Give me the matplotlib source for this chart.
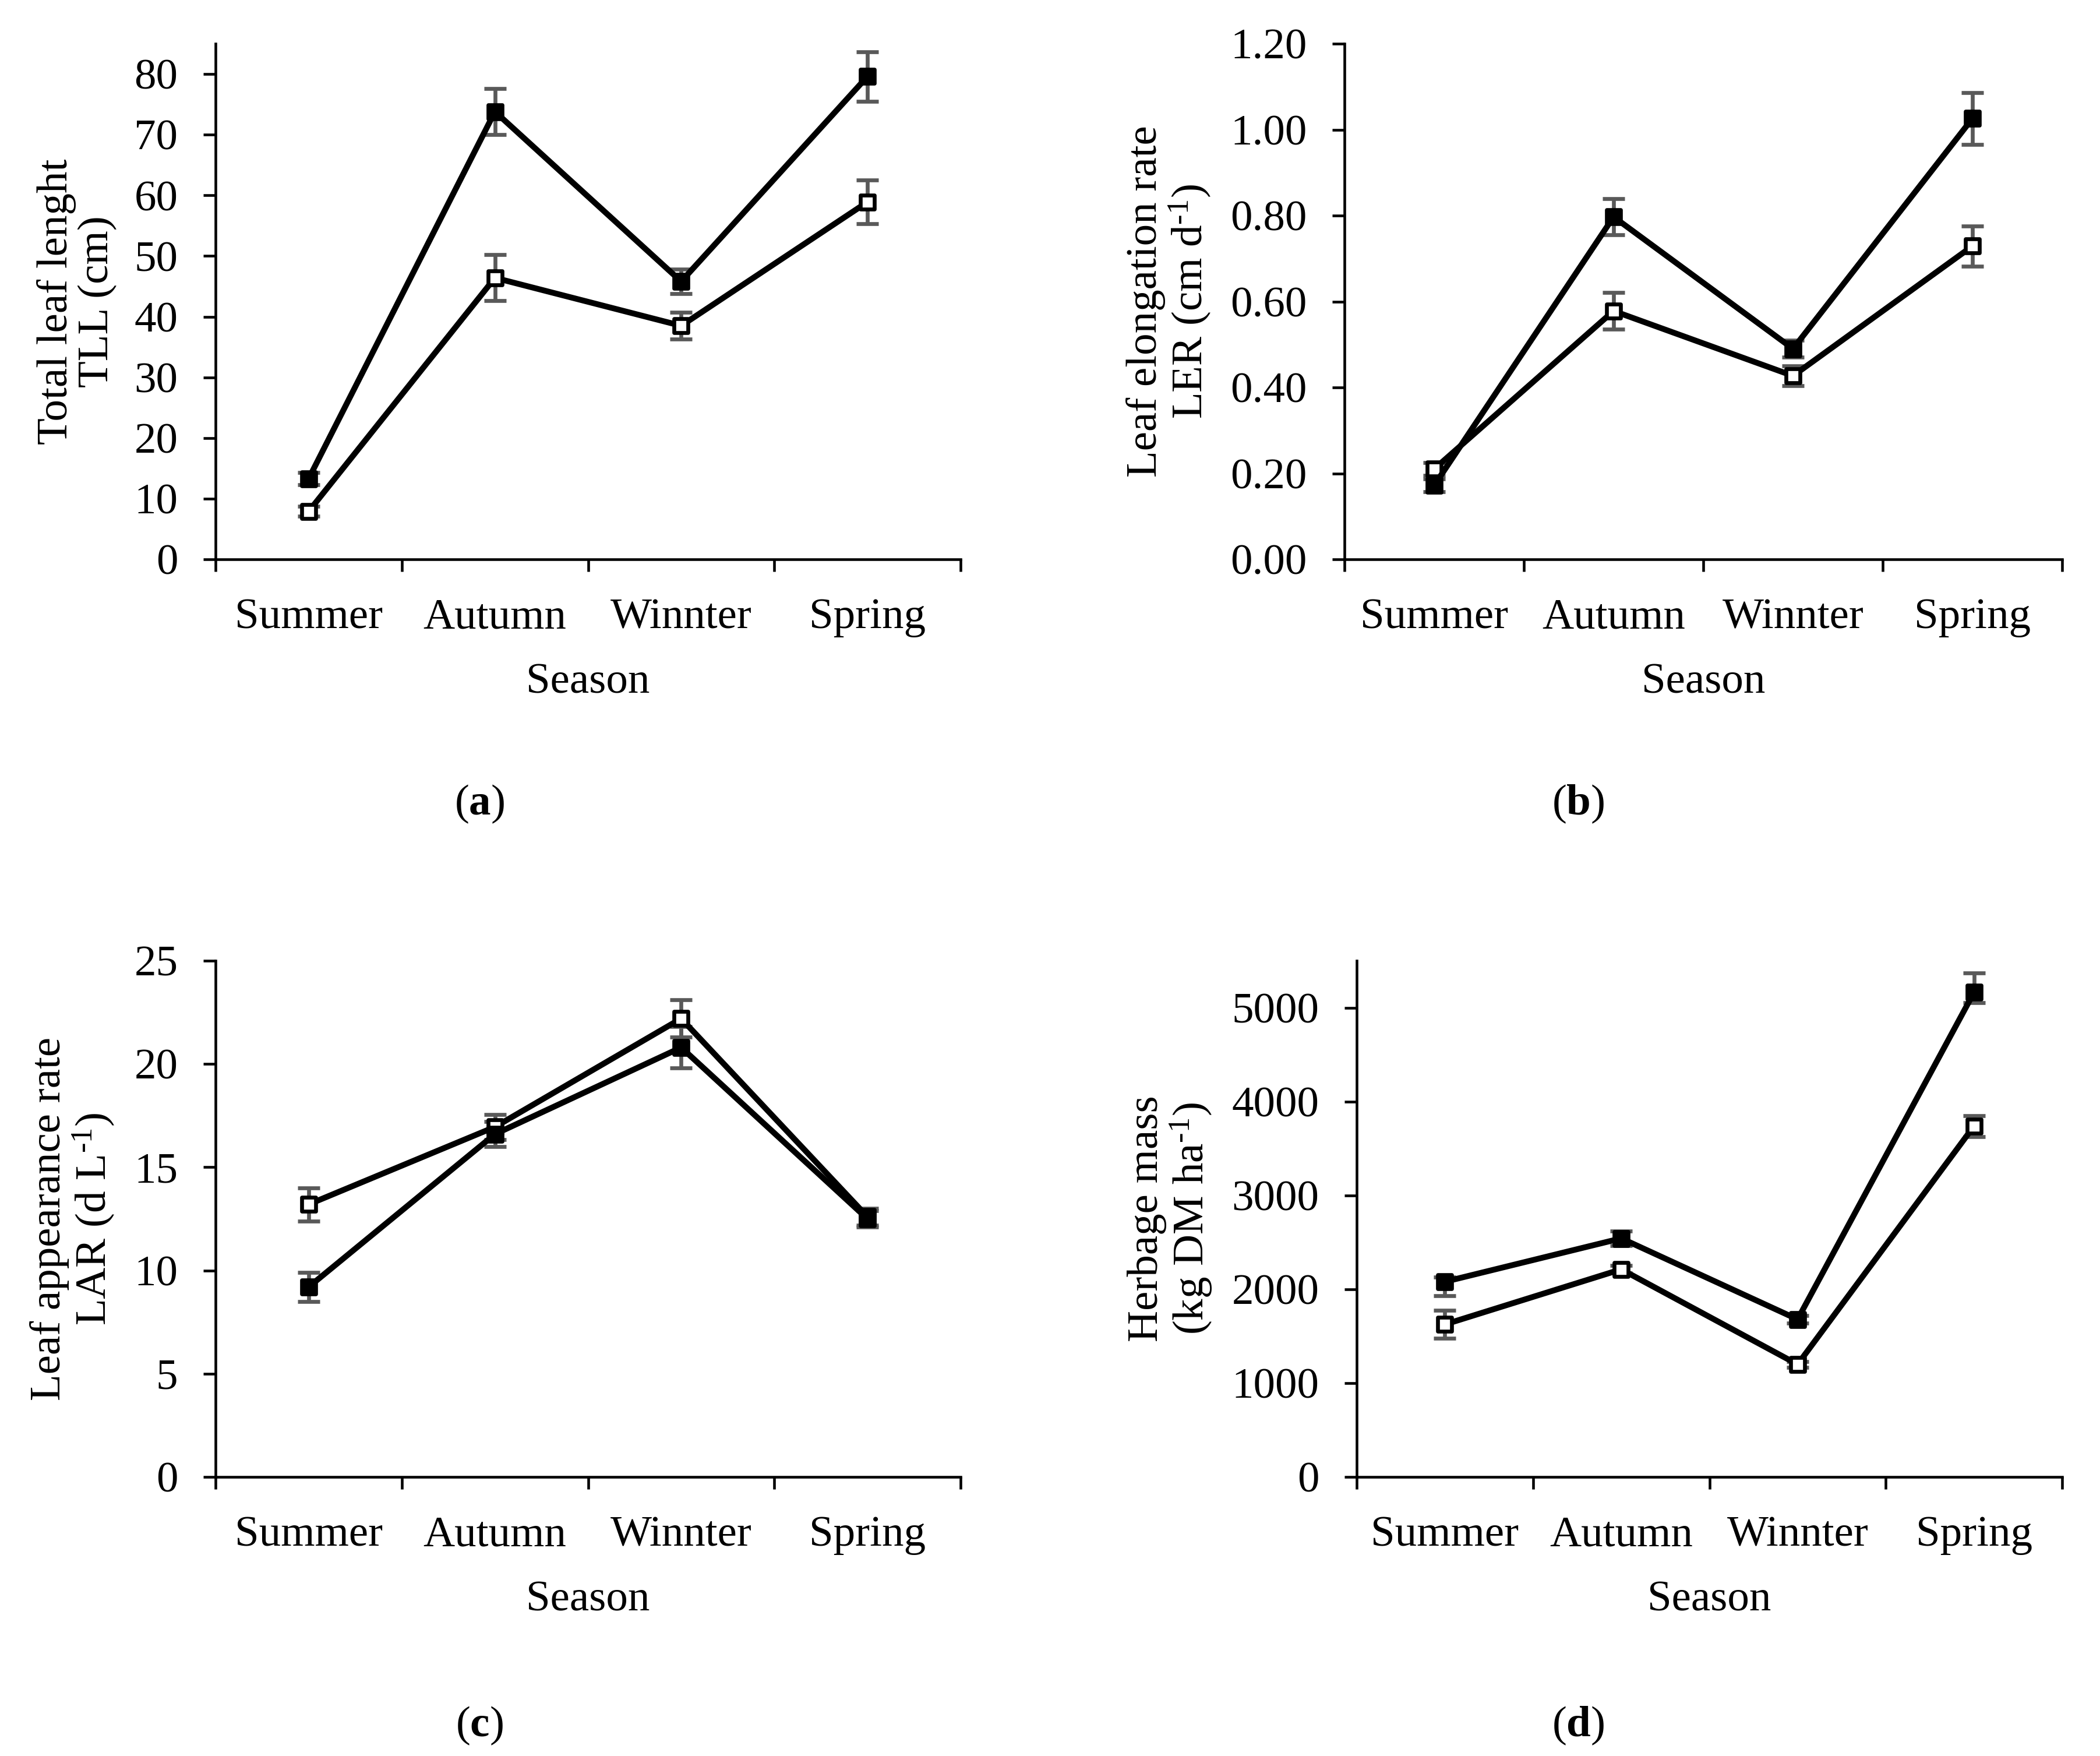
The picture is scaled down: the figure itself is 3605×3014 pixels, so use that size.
import matplotlib
matplotlib.use("Agg")
import matplotlib.pyplot as plt
from matplotlib.markers import MarkerStyle
from matplotlib.ticker import FixedLocator, FormatStrFormatter

plt.rcParams['font.family'] = ['Liberation Serif', 'DejaVu Serif']
plt.rcParams['mathtext.fontset'] = 'custom'
plt.rcParams['mathtext.rm'] = 'Liberation Serif'
plt.rcParams['mathtext.it'] = 'Liberation Serif:italic'
plt.rcParams['mathtext.bf'] = 'Liberation Serif:bold'

seasons = ["Summer", "Autumn", "Winnter", "Spring"]

# (a) Total leaf length
tll_filled = [13.3, 73.8, 45.8, 79.6]
tll_filled_err = [1.0, 3.8, 2.0, 4.1]
tll_open = [7.9, 46.4, 38.5, 58.9]
tll_open_err = [0.8, 3.8, 2.2, 3.6]

# (b) Leaf elongation rate
ler_filled = [0.172, 0.797, 0.490, 1.026]
ler_filled_err = [0.015, 0.042, 0.020, 0.060]
ler_open = [0.210, 0.578, 0.427, 0.729]
ler_open_err = [0.015, 0.043, 0.023, 0.047]

# (c) Leaf appearance rate
lar_filled = [9.2, 16.6, 20.8, 12.5]
lar_filled_err = [0.7, 0.6, 1.0, 0.4]
lar_open = [13.2, 16.95, 22.2, 12.6]
lar_open_err = [0.8, 0.6, 0.9, 0.4]

# (d) Herbage mass
hm_filled = [2080, 2542, 1679, 5162]
hm_filled_err_low = [150, 75, 40, 112]
hm_filled_err_high = [50, 75, 40, 205]
hm_open = [1625, 2212, 1199, 3738]
hm_open_err = [150, 40, 30, 110]

W, H = 3605, 3014
fig = plt.figure(figsize=(W / 300, H / 300), dpi=300)

def px_axes(left, right, top, bottom):
    return [left / W, 1 - bottom / H, (right - left) / W, (bottom - top) / H]

panels = [
    dict(pos=px_axes(370, 1649, 75, 960), filled=tll_filled, ferr=tll_filled_err,
         opn=tll_open, oerr=tll_open_err, ylim=(0, 85), yticks=list(range(0, 81, 10)),
         fmt='%d', ylabel="Total leaf lenght\nTLL (cm)", tag="a", tagxy=(823, 1380)),
    dict(pos=px_axes(2308, 3540, 75, 960), filled=ler_filled, ferr=ler_filled_err,
         opn=ler_open, oerr=ler_open_err, ylim=(0, 1.2), yticks=[0, 0.2, 0.4, 0.6, 0.8, 1.0, 1.2],
         fmt='%.2f', ylabel="Leaf elongation rate\nLER (cm d$^{\\text{-1}}$)", tag="b", tagxy=(2709, 1380)),
    dict(pos=px_axes(370, 1649, 1649, 2535), filled=lar_filled, ferr=lar_filled_err,
         opn=lar_open, oerr=lar_open_err, ylim=(0, 25), yticks=list(range(0, 26, 5)),
         fmt='%d', ylabel="Leaf appearance rate\nLAR (d L$^{\\text{-1}}$)", tag="c", tagxy=(823, 2962)),
    dict(pos=px_axes(2329, 3540, 1649, 2535), filled=hm_filled,
         ferr=[hm_filled_err_low, hm_filled_err_high],
         opn=hm_open, oerr=hm_open_err, ylim=(0, 5500), yticks=list(range(0, 5001, 1000)),
         fmt='%d', ylabel="Herbage mass\n(kg DM ha$^{\\text{-1}}$)", tag="d", tagxy=(2709, 2962)),
]

x = [i + 0.5 for i in range(len(seasons))]
sq = MarkerStyle('s', joinstyle='round')
FS = 18

for p in panels:
    ax = fig.add_axes(p['pos'])
    for vals, errs, face in [(p['opn'], p['oerr'], 'white'), (p['filled'], p['ferr'], 'black')]:
        ax.errorbar(x, vals, yerr=errs, fmt='none', ecolor='#595959', elinewidth=1.6,
                    capsize=4.6, capthick=1.6, zorder=2)
        ax.plot(x, vals, color='black', lw=2.4, marker=sq, ms=5.8, mew=1.6,
                mfc=face, mec='black', zorder=3, solid_joinstyle='round')
    ax.set_xlim(0, 4)
    ax.set_ylim(*p['ylim'])
    ax.spines['top'].set_visible(False)
    ax.spines['right'].set_visible(False)
    for s in ('left', 'bottom'):
        ax.spines[s].set_linewidth(1.1)
    ax.set_xticks(x)
    ax.set_xticklabels(seasons)
    ax.xaxis.set_minor_locator(FixedLocator([0, 1, 2, 3, 4]))
    ax.tick_params(axis='x', which='major', length=0, pad=16, labelsize=FS)
    ax.tick_params(axis='x', which='minor', length=5, width=1.1, direction='out')
    ax.set_yticks(p['yticks'])
    ax.yaxis.set_major_formatter(FormatStrFormatter(p['fmt']))
    ax.tick_params(axis='y', which='major', length=5, width=1.1, direction='out',
                   pad=10.5, labelsize=FS)
    ax.set_xlabel("Season", fontsize=FS, labelpad=10.5)
    ax.set_ylabel(p['ylabel'], fontsize=FS, labelpad=7, linespacing=1.05)
    fig.text(p['tagxy'][0] / W, 1 - p['tagxy'][1] / H, "($\\mathbf{%s}$)" % p['tag'],
             fontsize=FS, ha='center', va='center')

fig.savefig("out.png", dpi=300, facecolor='white')
